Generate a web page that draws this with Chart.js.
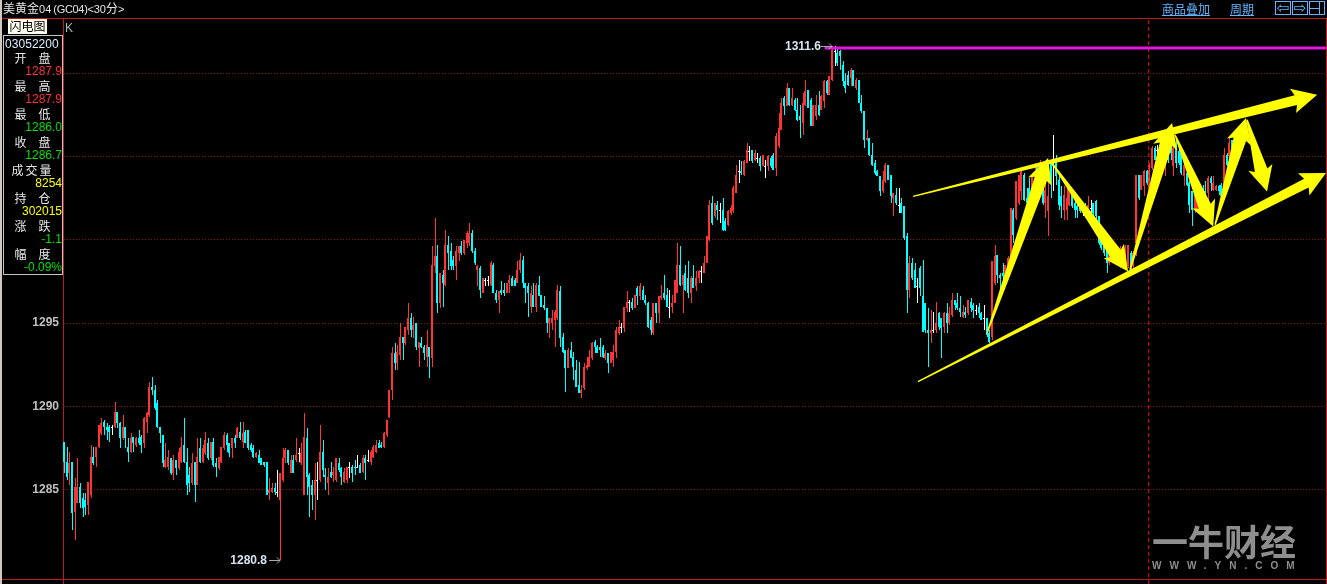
<!DOCTYPE html>
<html lang="zh-CN">
<head>
<meta charset="utf-8">
<title>美黄金04</title>
<script src="https://cdn.jsdelivr.net/npm/chart.js@4"></script>
<style>
html,body{margin:0;padding:0;background:#000;overflow:hidden;width:1327px;height:584px}
#wrap{position:relative;width:1327px;height:584px;font-family:"Liberation Sans","Noto Sans CJK SC",sans-serif;font-size:12px;line-height:14px}
canvas{position:absolute;left:0;top:0}
.t{position:absolute;white-space:pre}
.ln{position:absolute;background:#bc1c1c}
.lab{position:absolute;left:4px;width:57px;text-align:center;color:#e8e8e8;font-family:"Noto Sans CJK SC",sans-serif;white-space:pre}
.val{position:absolute;left:4px;width:58px;text-align:right}
.ic{position:absolute;top:1px;width:14px;height:12px;border:1px solid #64b4ff;color:#64b4ff;text-align:center;font:15px/12px "DejaVu Sans"}
</style>
</head>
<body>
<div id="wrap">
<div class="ln" style="left:0;top:0;width:2px;height:584px;background:#d0c8c0"></div>
<div class="ln" style="left:2px;top:18px;width:1325px;height:1px"></div>
<div class="ln" style="left:2px;top:579px;width:1325px;height:1px"></div>
<div class="ln" style="left:63px;top:18px;width:1px;height:566px"></div>
<div class="ln" style="left:1326px;top:18px;width:1px;height:566px"></div>
<canvas id="c" width="1327" height="584"></canvas>
<div class="t" style="left:3px;top:2px;color:#e6e6e6;font-size:12px;letter-spacing:0">美黄金<span style="font-size:11px">04</span><span style="font-size:11px;letter-spacing:-.3px;margin-left:2px">(GC04)&lt;</span><span style="font-size:11px">30</span>分<span style="font-size:11px">&gt;</span></div>
<div class="t" style="left:1162px;top:2px;color:#64b4ff;text-decoration:underline;font-family:'Noto Sans CJK SC'">商品叠加</div>
<div class="t" style="left:1230px;top:2px;color:#64b4ff;text-decoration:underline;font-family:'Noto Sans CJK SC'">周期</div>
<div class="ic" style="left:1275px">⇦</div>
<div class="ic" style="left:1292px">⇨</div>
<div class="ic" style="left:1309px"><div style="position:absolute;left:9px;top:0;width:1px;height:12px;background:#64b4ff"></div><div style="position:absolute;left:0;top:6px;width:9px;height:1px;background:#64b4ff"></div></div>
<div class="t" style="left:8px;top:19px;width:39px;height:15px;background:#fffff0;color:#000;text-align:center;font-family:'Noto Sans CJK SC'">闪电图</div>
<div class="t" style="left:65px;top:21px;color:#a8b8c8">K</div>
<div style="position:absolute;left:3px;top:35px;width:58px;height:238px;border:1px solid #c4c4c4;background:#000"></div>
<div class="t" style="left:5px;top:37px;color:#d8f0ff;letter-spacing:.05px">03052200</div>
<div id="panel"></div>
<div class="t" style="left:1152px;top:515px;font:700 36px/50px 'Noto Sans CJK SC';color:#8e8e8e">一牛财经</div>
<div class="t" style="left:1152px;top:560px;font:700 10px/12px 'Liberation Sans';color:#8e8e8e;letter-spacing:8px">WWW.YN.COM</div>
</div>
<script>
const opens=[
1287.9,1286.7,1286.0,1286.7,1283.7,1284.2,1285.2,1284.5,1284.4,1284.1,
1284.7,1287.0,1287.0,1287.6,1288.4,1289.1,1288.8,1288.8,1288.8,1288.8,
1289.7,1289.0,1288.1,1288.8,1287.6,1287.3,1288.2,1287.7,1288.1,1288.2,
1287.8,1289.1,1289.5,1291.2,1291.0,1290.2,1288.8,1288.3,1286.4,1286.4,
1286.9,1286.0,1286.8,1286.3,1286.7,1287.7,1286.7,1285.9,1285.4,1286.7,
1285.3,1287.5,1286.7,1287.2,1287.8,1286.9,1287.9,1286.6,1286.3,1286.7,
1287.5,1288.3,1287.8,1287.5,1288.1,1288.1,1288.5,1287.9,1288.5,1288.6,
1287.7,1287.5,1287.0,1287.1,1286.9,1286.7,1286.7,1284.8,1284.9,1285.1,
1284.9,1284.4,1285.6,1286.9,1287.4,1286.0,1286.8,1286.8,1287.2,1286.6,
1284.7,1288.1,1285.9,1285.3,1284.7,1285.6,1285.6,1287.3,1285.9,1285.4,
1286.1,1285.9,1285.6,1286.6,1286.3,1285.5,1285.6,1286.4,1286.4,1286.4,
1286.4,1286.5,1286.1,1286.9,1286.8,1286.7,1287.0,1287.3,1287.8,1287.7,
1287.6,1288.3,1289.4,1291.0,1293.2,1292.6,1293.1,1294.2,1293.8,1294.6,
1295.3,1294.6,1295.0,1293.5,1293.8,1293.6,1293.0,1293.6,1292.9,1298.4,
1299.0,1296.2,1297.9,1297.3,1299.7,1299.3,1298.8,1298.4,1299.2,1299.6,
1299.2,1299.8,1299.8,1300.4,1299.3,1298.2,1298.3,1296.8,1297.6,1297.6,
1297.3,1298.5,1296.8,1296.4,1297.0,1297.0,1296.8,1297.4,1297.7,1297.6,
1297.4,1298.2,1298.8,1297.4,1297.2,1296.0,1296.7,1296.0,1297.3,1296.7,
1296.1,1295.9,1295.0,1295.0,1295.2,1295.3,1296.9,1294.2,1293.4,1292.3,
1293.4,1293.0,1292.2,1291.3,1290.8,1291.1,1292.3,1292.4,1292.9,1293.9,
1293.6,1293.6,1293.6,1292.9,1293.2,1292.6,1292.8,1293.3,1294.4,1294.8,
1294.7,1295.9,1296.3,1296.3,1295.9,1297.1,1296.6,1297.0,1296.4,1296.2,
1295.2,1294.4,1296.2,1295.6,1296.5,1296.8,1296.7,1296.0,1296.0,1296.2,
1296.8,1298.5,1297.3,1298.0,1297.7,1296.8,1297.7,1297.2,1297.7,1298.1,
1298.0,1298.6,1300.0,1302.2,1301.4,1302.1,1301.8,1301.8,1301.1,1300.9,
1301.6,1301.7,1302.8,1304.1,1304.1,1303.9,1304.6,1305.3,1305.4,1304.8,
1304.9,1304.9,1304.4,1304.4,1304.4,1304.9,1305.1,1304.3,1305.6,1306.6,
1308.5,1308.0,1309.1,1308.1,1308.4,1307.8,1307.4,1307.0,1308.1,1309.0,
1308.4,1306.8,1307.4,1308.1,1307.8,1308.3,1309.5,1308.7,1309.6,1311.3,
1311.2,1311.3,1310.5,1309.5,1309.9,1309.7,1310.2,1309.1,1309.6,1308.2,
1307.7,1306.0,1306.1,1305.1,1304.6,1304.1,1303.8,1302.9,1303.5,1304.5,
1303.9,1302.5,1302.7,1302.1,1302.2,1302.0,1300.2,1297.0,1298.6,1298.2,
1297.2,1298.3,1296.6,1296.2,1294.6,1294.4,1294.6,1294.6,1295.6,1295.3,
1294.8,1295.6,1295.0,1295.5,1296.4,1296.2,1295.9,1295.4,1295.7,1295.6,
1296.3,1296.1,1295.8,1296.0,1295.6,1295.3,1295.3,1294.4,1294.2,1297.4,
1299.1,1297.9,1298.0,1297.9,1298.4,1298.8,1301.8,1301.3,1302.2,1302.9,
1303.9,1302.5,1303.1,1303.0,1303.8,1304.4,1303.5,1303.5,1302.2,1301.7,
1304.6,1304.5,1304.8,1303.6,1302.6,1301.8,1301.8,1302.1,1302.7,1302.2,
1302.0,1301.9,1301.8,1301.9,1301.4,1301.9,1302.2,1302.3,1301.4,1299.9,
1299.6,1299.3,1298.6,1299.2,1299.3,1298.8,1298.4,1299.0,1298.9,1298.4,
1299.2,1298.4,1299.8,1303.9,1303.0,1303.2,1304.1,1303.1,1304.3,1305.5,
1305.4,1305.0,1305.6,1305.0,1305.4,1305.6,1304.4,1305.7,1305.3,1305.2,
1303.8,1304.0,1303.4,1302.9,1301.9,1301.8,1301.6,1302.6,1302.9,1302.8,
1303.7,1303.0,1303.0,1303.2,1303.3,1303.0,1305.1,1305.0,1306.0];
const highs=[
1287.9,1287.6,1287.3,1286.7,1285.7,1286.9,1285.4,1284.8,1284.8,1285.5,
1287.7,1287.6,1287.6,1288.9,1289.3,1289.2,1289.0,1288.9,1288.9,1290.3,
1289.7,1289.1,1289.5,1288.8,1288.1,1288.4,1288.2,1288.2,1288.6,1288.3,
1289.4,1289.7,1291.5,1291.8,1291.3,1290.4,1288.8,1288.3,1287.8,1287.4,
1286.9,1287.1,1286.8,1287.5,1288.2,1289.3,1287.5,1286.4,1287.2,1286.7,
1288.1,1288.1,1287.7,1288.5,1288.1,1287.9,1288.1,1286.9,1287.0,1287.6,
1288.5,1288.4,1287.8,1288.1,1288.3,1288.8,1289.1,1289.1,1288.6,1288.6,
1287.8,1287.7,1287.3,1287.4,1286.9,1286.7,1286.7,1285.7,1285.4,1285.4,
1286.2,1286.0,1287.5,1287.5,1287.4,1287.1,1287.1,1288.1,1287.5,1287.8,
1289.6,1288.7,1286.0,1285.6,1286.6,1286.7,1288.9,1288.0,1286.3,1286.3,
1286.7,1286.4,1286.9,1286.9,1286.4,1286.3,1286.4,1286.7,1286.5,1286.8,
1287.1,1286.6,1287.1,1287.1,1287.4,1287.4,1287.7,1288.0,1288.0,1287.9,
1288.5,1289.2,1291.0,1293.6,1293.8,1293.7,1295.0,1294.2,1294.8,1296.2,
1295.6,1295.4,1295.0,1293.9,1294.2,1293.7,1294.6,1293.6,1299.6,1301.3,
1299.7,1298.0,1298.2,1300.6,1300.2,1299.8,1299.0,1299.6,1299.6,1299.9,
1300.0,1300.5,1301.0,1300.6,1299.5,1298.5,1298.4,1297.7,1297.7,1297.8,
1298.7,1298.6,1297.0,1296.9,1297.5,1297.4,1297.4,1297.9,1297.8,1297.7,
1298.7,1299.2,1299.0,1297.4,1297.4,1297.2,1297.4,1297.4,1297.8,1296.7,
1296.6,1295.9,1295.3,1295.8,1295.8,1297.3,1297.2,1294.4,1293.4,1293.5,
1293.9,1293.3,1292.8,1292.7,1291.3,1292.6,1293.0,1293.4,1293.9,1294.0,
1293.7,1294.1,1293.7,1293.4,1293.2,1293.3,1293.7,1294.8,1295.2,1295.0,
1296.0,1296.9,1296.4,1296.5,1296.7,1297.2,1297.4,1297.2,1296.7,1296.3,
1295.4,1296.2,1296.2,1296.6,1297.3,1297.9,1297.1,1297.0,1296.7,1297.6,
1299.8,1299.6,1297.9,1298.5,1298.7,1297.8,1298.5,1298.1,1298.2,1298.4,
1299.0,1300.2,1302.4,1302.6,1302.2,1302.3,1302.2,1302.5,1301.3,1301.8,
1302.1,1303.2,1304.5,1304.8,1304.7,1304.8,1305.8,1305.6,1305.4,1305.4,
1305.2,1305.0,1305.1,1304.8,1305.1,1305.0,1305.2,1306.4,1307.6,1308.5,
1308.6,1309.4,1309.1,1309.1,1308.5,1308.5,1308.1,1308.8,1309.6,1309.0,
1308.5,1308.1,1308.7,1308.9,1308.7,1309.6,1309.6,1309.8,1311.6,1311.6,
1311.5,1311.4,1310.7,1310.0,1310.1,1310.3,1310.2,1309.7,1309.6,1308.7,
1307.7,1306.6,1306.1,1305.8,1304.8,1304.2,1303.8,1304.1,1304.6,1304.5,
1303.9,1302.8,1303.1,1303.1,1302.5,1302.0,1300.4,1299.0,1298.9,1298.6,
1297.7,1298.4,1298.8,1296.2,1295.9,1295.8,1295.7,1296.3,1295.7,1295.3,
1295.7,1296.2,1296.0,1296.8,1296.4,1296.8,1296.6,1296.1,1296.0,1296.4,
1296.5,1296.2,1296.1,1296.2,1295.7,1296.1,1295.3,1294.6,1298.7,1299.7,
1299.1,1298.0,1298.6,1298.5,1299.0,1301.9,1301.9,1303.5,1303.9,1304.1,
1304.0,1303.1,1303.7,1304.0,1304.6,1304.5,1304.8,1303.7,1304.7,1304.4,
1304.8,1306.3,1305.1,1303.8,1303.2,1303.2,1303.1,1303.3,1302.8,1302.4,
1302.2,1302.0,1302.1,1302.2,1302.6,1302.4,1302.2,1302.4,1301.4,1300.1,
1299.7,1299.4,1299.4,1299.3,1299.4,1299.4,1299.6,1299.2,1299.7,1299.7,
1299.3,1299.3,1303.9,1303.9,1303.9,1304.2,1304.2,1304.6,1305.6,1305.6,
1305.7,1305.7,1305.7,1305.6,1305.5,1305.7,1305.6,1306.0,1305.8,1305.3,
1304.8,1304.6,1303.5,1302.9,1303.0,1302.9,1302.7,1303.3,1303.5,1303.8,
1303.8,1303.8,1303.3,1303.3,1303.4,1305.5,1305.2,1306.1,1306.0];
const lows=[
1286.0,1285.6,1285.3,1282.6,1282.0,1284.2,1283.9,1283.4,1283.5,1283.5,
1284.5,1286.5,1286.4,1287.5,1288.3,1288.3,1288.0,1287.9,1288.3,1288.7,
1288.7,1287.5,1288.0,1287.5,1286.7,1287.2,1287.3,1287.6,1287.7,1287.2,
1287.5,1288.4,1289.4,1290.7,1289.8,1288.7,1287.8,1286.4,1286.3,1286.2,
1285.9,1285.6,1285.9,1286.2,1286.6,1286.6,1284.7,1284.9,1285.3,1284.3,
1285.3,1286.6,1286.6,1287.1,1286.8,1286.8,1286.4,1285.8,1286.2,1286.6,
1287.4,1287.3,1287.0,1286.9,1287.5,1288.1,1288.0,1287.5,1287.8,1287.4,
1287.3,1286.9,1286.9,1286.6,1286.5,1286.4,1284.7,1284.4,1284.8,1284.7,
1284.6,1280.8,1285.5,1286.6,1286.5,1286.0,1286.0,1286.7,1286.7,1286.5,
1284.7,1284.7,1283.4,1283.8,1283.2,1284.4,1285.5,1285.8,1285.0,1284.7,
1285.7,1285.5,1285.5,1286.1,1285.3,1285.4,1285.4,1285.7,1285.5,1285.9,
1286.3,1286.0,1286.0,1285.6,1286.7,1286.5,1286.9,1287.2,1287.5,1287.5,
1287.5,1288.2,1289.3,1290.4,1292.2,1292.2,1292.8,1292.8,1293.7,1294.3,
1294.2,1294.1,1293.4,1292.4,1293.5,1292.8,1292.4,1291.7,1292.4,1298.0,
1295.6,1295.9,1296.0,1297.2,1298.2,1298.2,1298.2,1297.6,1298.7,1299.1,
1299.1,1299.5,1299.6,1299.2,1298.5,1297.2,1296.5,1296.8,1297.2,1297.2,
1297.2,1296.8,1296.2,1295.6,1296.7,1296.6,1296.8,1296.8,1297.2,1297.2,
1297.4,1298.0,1297.1,1296.2,1295.4,1295.6,1296.0,1295.7,1296.6,1296.0,
1295.8,1294.4,1294.1,1294.6,1293.6,1295.2,1293.6,1293.2,1290.9,1292.3,
1292.9,1291.6,1291.2,1290.8,1290.5,1291.0,1292.2,1292.4,1292.8,1293.2,
1293.2,1293.0,1292.9,1292.8,1292.0,1292.6,1292.4,1292.9,1294.3,1294.4,
1294.5,1295.7,1295.7,1295.8,1295.9,1296.1,1296.4,1296.4,1296.1,1294.7,
1294.3,1294.3,1295.0,1295.0,1296.4,1296.4,1296.0,1295.3,1295.6,1296.2,
1296.8,1297.2,1295.6,1296.9,1296.5,1296.2,1297.1,1296.9,1297.4,1297.4,
1298.0,1298.6,1299.9,1300.9,1301.3,1301.2,1301.0,1300.5,1300.5,1300.8,
1301.5,1301.6,1302.8,1303.4,1303.9,1303.8,1304.6,1304.7,1304.6,1304.7,
1304.6,1304.1,1304.4,1303.7,1304.1,1304.3,1304.2,1303.8,1305.5,1306.6,
1307.5,1308.0,1308.0,1308.0,1307.7,1307.1,1306.1,1306.3,1308.0,1307.9,
1306.8,1306.8,1307.2,1307.4,1307.8,1307.9,1308.7,1308.7,1309.5,1310.4,
1310.4,1310.2,1309.2,1308.8,1309.2,1309.2,1309.2,1309.0,1308.2,1307.6,
1305.5,1305.9,1305.0,1304.4,1303.9,1303.8,1302.6,1302.8,1303.4,1303.6,
1302.2,1301.4,1302.1,1301.6,1301.6,1300.0,1295.6,1296.5,1297.6,1297.1,
1296.2,1296.6,1294.5,1294.4,1292.4,1293.8,1294.4,1294.4,1294.6,1292.9,
1294.4,1294.4,1294.9,1295.4,1295.8,1295.8,1295.4,1295.3,1295.3,1295.5,
1295.7,1295.3,1295.5,1295.3,1295.2,1294.6,1294.2,1293.8,1294.0,1297.3,
1297.4,1297.0,1297.6,1297.8,1298.4,1298.7,1299.8,1301.2,1302.1,1302.4,
1302.3,1302.2,1302.4,1302.9,1303.5,1303.2,1303.3,1302.1,1301.3,1300.2,
1302.5,1302.9,1303.3,1301.8,1301.3,1301.2,1301.2,1302.0,1301.9,1301.3,
1301.3,1301.6,1301.4,1301.3,1301.3,1301.6,1301.3,1301.2,1299.7,1299.4,
1299.0,1298.0,1298.5,1298.8,1298.7,1298.7,1298.3,1298.3,1298.4,1298.3,
1298.2,1298.3,1299.0,1302.4,1303.0,1302.6,1303.3,1303.0,1304.2,1304.8,
1304.8,1304.6,1304.7,1303.8,1304.6,1304.8,1303.8,1304.3,1304.5,1303.9,
1303.2,1303.2,1301.6,1300.8,1301.6,1301.7,1301.6,1302.1,1302.1,1302.2,
1302.9,1302.9,1302.9,1302.7,1302.5,1303.0,1304.4,1304.5,1305.4];
const closes=[
1286.7,1285.8,1286.6,1283.6,1285.2,1285.2,1284.2,1283.9,1284.0,1285.5,
1287.0,1286.6,1287.6,1288.9,1289.0,1288.8,1288.6,1288.5,1288.8,1289.7,
1289.0,1288.1,1288.8,1288.1,1287.3,1288.1,1287.8,1288.1,1287.8,1287.7,
1289.3,1289.6,1291.2,1291.0,1289.9,1288.8,1288.4,1286.6,1286.8,1287.0,
1286.0,1286.8,1286.3,1287.3,1287.6,1286.7,1285.3,1285.4,1286.6,1285.3,
1287.0,1286.7,1287.5,1288.0,1286.9,1287.9,1286.5,1286.4,1287.0,1287.6,
1288.3,1287.7,1287.2,1288.1,1287.8,1288.7,1288.1,1288.4,1287.8,1287.5,
1287.4,1287.0,1287.2,1286.6,1286.5,1286.5,1284.7,1285.0,1285.1,1284.9,
1284.9,1286.0,1286.9,1287.4,1286.6,1286.8,1286.0,1287.1,1287.2,1287.2,
1288.2,1285.8,1285.2,1284.7,1285.6,1285.6,1287.3,1286.2,1285.8,1285.8,
1285.8,1286.1,1286.9,1286.2,1285.8,1286.1,1286.4,1286.4,1286.0,1286.3,
1286.4,1286.0,1286.9,1286.6,1286.8,1287.3,1287.6,1287.7,1287.5,1287.6,
1288.4,1289.2,1291.0,1293.2,1292.6,1293.3,1294.2,1293.8,1294.8,1295.3,
1294.6,1294.9,1293.6,1293.9,1293.6,1293.2,1293.7,1293.0,1298.5,1299.0,
1296.2,1298.0,1297.4,1299.7,1299.2,1298.4,1298.4,1299.3,1299.6,1299.2,
1300.0,1300.4,1300.4,1299.3,1298.6,1298.4,1297.0,1297.7,1297.6,1297.6,
1298.6,1296.8,1296.4,1296.9,1296.8,1296.8,1297.4,1297.6,1297.2,1297.2,
1298.2,1298.8,1297.4,1297.1,1296.8,1296.8,1296.0,1297.3,1296.6,1296.0,
1295.9,1295.0,1295.3,1295.3,1295.7,1297.0,1294.1,1293.3,1292.3,1293.4,
1292.9,1292.4,1291.2,1290.8,1291.0,1292.4,1292.5,1293.0,1293.8,1293.6,
1293.2,1293.4,1293.0,1293.2,1292.6,1293.3,1293.3,1294.6,1294.8,1294.8,
1296.0,1296.3,1296.3,1295.9,1296.7,1296.6,1297.2,1296.4,1296.2,1294.8,
1294.6,1296.2,1295.6,1296.6,1296.6,1296.5,1296.0,1296.0,1296.2,1297.6,
1298.5,1297.3,1297.9,1297.0,1296.8,1297.7,1297.1,1297.7,1298.1,1298.1,
1298.6,1300.2,1302.1,1301.0,1302.2,1301.8,1301.8,1300.6,1300.6,1301.7,
1301.9,1303.1,1303.9,1304.1,1304.0,1304.7,1305.4,1305.3,1304.7,1305.2,
1304.9,1304.4,1305.1,1304.4,1305.0,1304.4,1304.2,1306.2,1306.7,1308.2,
1308.0,1309.1,1308.1,1308.5,1307.8,1307.2,1307.2,1308.2,1308.9,1307.9,
1306.8,1308.1,1308.1,1307.5,1308.6,1309.5,1308.8,1309.8,1311.4,1311.3,
1310.6,1311.0,1309.5,1309.1,1309.3,1310.2,1309.2,1309.6,1308.2,1307.7,
1306.0,1306.1,1305.1,1304.5,1304.0,1303.8,1302.9,1303.6,1304.5,1303.6,
1302.6,1302.8,1302.2,1302.1,1301.6,1300.1,1297.0,1298.6,1297.7,1297.1,
1297.2,1297.1,1294.5,1294.6,1294.4,1294.6,1294.6,1295.0,1294.8,1294.7,
1295.6,1295.0,1295.6,1296.4,1296.1,1295.9,1295.7,1295.7,1295.5,1296.4,
1295.9,1295.8,1295.8,1295.6,1295.2,1295.3,1294.3,1293.9,1298.7,1299.0,
1297.9,1297.7,1297.8,1298.5,1298.9,1301.9,1300.3,1303.5,1303.9,1304.1,
1302.4,1302.2,1302.5,1303.9,1304.0,1303.6,1304.3,1302.2,1303.0,1302.6,
1303.4,1304.5,1303.8,1302.1,1302.0,1302.7,1302.5,1303.0,1302.0,1301.8,
1301.8,1301.7,1301.8,1301.4,1302.1,1301.9,1301.6,1301.4,1299.8,1299.5,
1299.2,1298.6,1299.1,1298.9,1298.8,1299.3,1299.4,1298.4,1299.4,1299.7,
1298.2,1299.2,1303.9,1302.5,1303.9,1304.1,1303.4,1304.5,1305.5,1304.8,
1305.4,1305.6,1304.8,1305.4,1304.8,1305.2,1305.5,1304.6,1304.6,1304.0,
1304.5,1303.3,1302.1,1301.8,1303.0,1302.8,1302.6,1302.2,1302.2,1303.7,
1303.4,1303.4,1303.2,1302.9,1302.6,1305.1,1304.5,1305.8,1305.5];

const yTicks=[1285,1290,1295,1300,1305,1310];
const yTickLabels=["1285","1290","1295"];
const peakIndex=288, peakPrice=1311.6, peakLabel="1311.6";
const lowIndex=81, lowPrice=1280.8, lowLabel="1280.8";
const resistanceLevel=1311.5, resistanceFrom=285;
const cursorIndex=406.5, cursorBottom=1279.36;
// hand-drawn arrows, in bar index and price
const arrowFromIndex=[318.2,320.0,345.9,370.3,399.5,416.4,431.4,443.4];
const arrowFromPrice=[1302.6,1291.5,1294.4,1304.6,1298.2,1306.3,1300.9,1307.2];
const arrowToIndex=[469.7,473.0,368.8,398.8,415.3,430.7,443.0,450.9];
const arrowToPrice=[1308.7,1304.0,1304.9,1298.1,1307.0,1300.8,1307.3,1302.9];
const panelLabels=["开　盘","最　高","最　低","收　盘","成交量","持　仓","涨　跌","幅　度"];
const panelValues=["1287.9","1287.9","1286.0","1286.7","8254","302015","-1.1","-0.09%"];
const panelColors=["#ff3232","#ff3232","#00e000","#00e000","#ffff00","#ffff00","#00e000","#00e000"];

const panel=document.getElementById('panel');
panelLabels.forEach((l,i)=>{
  const a=document.createElement('div');a.className='lab';a.style.top=(51+28*i)+'px';a.textContent=l;
  if(i===4)a.style.letterSpacing='2px';
  panel.appendChild(a);
  const b=document.createElement('div');b.className='val';b.style.top=(64+28*i)+'px';b.style.color=panelColors[i];b.textContent=panelValues[i];panel.appendChild(b);
});

const RED='#ff3333',CYAN='#00ffff',WHITE='#ffffff';
const barColor=i=>closes[i]>opens[i]?RED:closes[i]<opens[i]?CYAN:WHITE;
const idx=opens.map((_,i)=>i);
const wicks=idx.map(i=>({x:i,y:[lows[i],highs[i]]}));
const bodies=idx.map(i=>({x:i,y:[opens[i],closes[i]]}));
const yMin=1279.66,yMax=1313.24,xMin=-0.19,xMax=473;

const snap={id:'snap',afterDatasetsUpdate(ch){
  [0,1].forEach(d=>{
    ch.getDatasetMeta(d).data.forEach(el=>{
      const f=Math.floor(el.x);
      el.x=d===0?f+0.5:f;
      let a=Math.round(el.y),b=Math.round(el.base);
      if(a===b)b=a+1;
      el.y=a;el.base=b;
    });
  });
}};
const marks={id:'marks',afterDatasetsDraw(ch){
  const c=ch.ctx,X=ch.scales.x,Y=ch.scales.y;
  c.save();
  c.fillStyle='#ffff00';
  const headLen=25,headHalf=12.5,tailHalf=0.7,notch=3;
  arrowFromIndex.forEach((_,i)=>{
    const neckHalf=i<2?5:6.5;
    const x0=X.getPixelForValue(arrowFromIndex[i]),y0=Y.getPixelForValue(arrowFromPrice[i]);
    const x1=X.getPixelForValue(arrowToIndex[i]),y1=Y.getPixelForValue(arrowToPrice[i]);
    const L=Math.hypot(x1-x0,y1-y0),ux=(x1-x0)/L,uy=(y1-y0)/L,nx=-uy,ny=ux;
    const bx=x1-ux*headLen,by=y1-uy*headLen;
    const kx=x1-ux*(headLen-notch),ky=y1-uy*(headLen-notch);
    c.beginPath();
    c.moveTo(x0+nx*tailHalf,y0+ny*tailHalf);
    c.lineTo(kx+nx*neckHalf,ky+ny*neckHalf);
    c.lineTo(bx+nx*headHalf,by+ny*headHalf);
    c.lineTo(x1,y1);
    c.lineTo(bx-nx*headHalf,by-ny*headHalf);
    c.lineTo(kx-nx*neckHalf,ky-ny*neckHalf);
    c.lineTo(x0-nx*tailHalf,y0-ny*tailHalf);
    c.closePath();c.fill();
  });
  c.font='700 12px "Liberation Sans"';c.textAlign='right';c.textBaseline='middle';
  const tag=(ix,p,t,gap)=>{
    const x=Math.floor(X.getPixelForValue(ix)),y=Math.round(Y.getPixelForValue(p));
    c.fillStyle='#d8e4f0';c.fillText(t,x-gap,y+1);
    c.strokeStyle='#aaaaaa';c.lineWidth=1;c.beginPath();
    c.moveTo(x-11,y+.5);c.lineTo(x,y+.5);c.moveTo(x-3,y-2.5);c.lineTo(x,y+.5);c.lineTo(x-3,y+3.5);c.stroke();
  };
  tag(peakIndex,peakPrice,peakLabel,11);
  tag(lowIndex,lowPrice,lowLabel,13);
  c.restore();
}};
new Chart(document.getElementById('c'),{
  type:'bar',
  data:{datasets:[
    {data:wicks,backgroundColor:idx.map(barColor),barThickness:1,grouped:false,borderWidth:0,inflateAmount:0,order:3,clip:false},
    {data:bodies,backgroundColor:idx.map(barColor),barThickness:2,grouped:false,borderWidth:0,inflateAmount:0,order:2,clip:false},
    {type:'line',data:[{x:resistanceFrom,y:resistanceLevel},{x:xMax,y:resistanceLevel}],borderColor:'#e414e4',borderWidth:3,pointRadius:0,order:1},
    {type:'line',data:[{x:cursorIndex,y:cursorBottom},{x:cursorIndex,y:yMax}],borderColor:'#e01010',borderWidth:1,borderDash:[4,3],pointRadius:0,order:1,clip:false}
  ]},
  options:{
    responsive:false,animation:false,events:[],devicePixelRatio:1,
    layout:{padding:{left:0,top:19,right:1,bottom:5}},
    plugins:{legend:{display:false},tooltip:{enabled:false},title:{display:false}},
    scales:{
      x:{type:'linear',display:false,offset:false,min:xMin,max:xMax},
      y:{type:'linear',min:yMin,max:yMax,
        afterFit(s){s.width=64;s.paddingTop=0;s.paddingBottom=0;},
        afterBuildTicks(s){s.ticks=yTicks.map(v=>({value:v}));},
        grid:{color:'#8a1010',lineWidth:1,drawTicks:false},
        border:{display:false,dash:[1,2]},
        ticks:{color:'#c0c0c0',font:{family:'"Liberation Sans"',size:12,weight:'700'},padding:5,
          callback:v=>yTickLabels.includes(String(v))?String(v):''}
      }
    }
  },
  plugins:[snap,marks]
});
</script>
</body>
</html>
